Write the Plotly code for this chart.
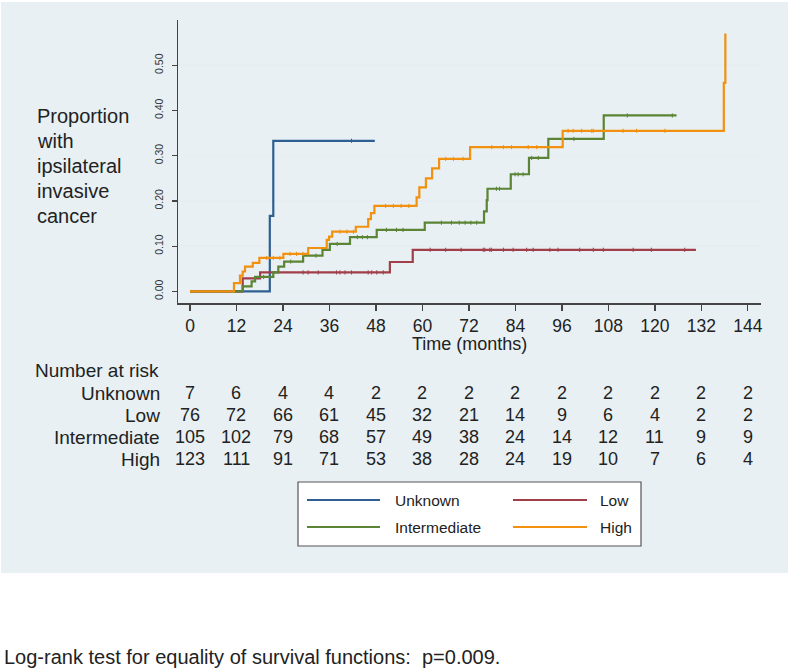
import plotly.graph_objects as go

# ---------------- data ----------------
groups = ["Unknown", "Low", "Intermediate", "High"]
colors = ["#2f5f92", "#a03f4a", "#5b8434", "#f2900f"]

unknown_t = [20.6, 21.5]
unknown_v = [0.167, 0.333]
unknown_end = 47.7
unknown_cens = [41.7]

low_t = [13.6, 18.1, 51.6, 57.5]
low_v = [0.029, 0.042, 0.065, 0.092]
low_end = 130.6
low_cens = [29.2, 30.5, 33.1, 37.8, 38.7, 40.0, 41.7, 46.0, 46.9, 48.2, 49.9,
            62.0, 66.0, 70.0, 75.7, 76.1, 77.4, 77.8, 80.9, 83.4, 86.9, 88.6,
            92.9, 95.0, 100.6, 104.1, 106.7, 114.4, 119.1, 127.7]

inter_t = [13.6, 15.9, 16.8, 21.5, 22.8, 24.3, 29.2, 34.2, 36.1, 41.3, 48.2,
           60.6, 75.9, 76.6, 76.8, 82.8, 87.5, 92.5, 106.8]
inter_v = [0.011, 0.022, 0.032, 0.042, 0.055, 0.066, 0.079, 0.092, 0.105, 0.120,
           0.136, 0.152, 0.177, 0.202, 0.227, 0.259, 0.295, 0.337, 0.389]
inter_end = 125.6
inter_cens = [19.0, 26.0, 32.5, 38.0, 43.2, 44.5, 45.8, 50.7, 53.3, 55.0, 64.9,
              67.5, 69.5, 71.0, 72.5, 74.0, 79.1, 79.9, 83.9, 84.7, 86.0, 88.2,
              89.9, 99.1, 112.9, 124.5]

high_t = [11.35, 12.9, 13.6, 14.2, 16.2, 17.9, 24.1, 30.5, 35.3, 35.9, 36.7,
          42.8, 46.0, 46.7, 47.6, 58.5, 59.2, 60.9, 62.5, 64.3, 72.3, 96.2,
          137.8, 138.2]
high_v = [0.0185, 0.035, 0.044, 0.055, 0.063, 0.074, 0.083, 0.096, 0.114, 0.121,
          0.132, 0.143, 0.160, 0.173, 0.189, 0.208, 0.230, 0.250, 0.272, 0.293,
          0.319, 0.355, 0.461, 0.570]
high_end = 138.2
high_cens = [19.8, 21.5, 23.2, 25.8, 27.5, 29.2, 38.7, 40.5, 42.2, 50.5, 52.5,
             54.5, 56.5, 66.0, 68.0, 70.5, 77.9, 80.9, 83.0, 87.3, 89.5, 97.6,
             98.9, 101.1, 103.7, 104.1, 111.8, 115.3, 122.6]

risk_times = [0, 12, 24, 36, 48, 60, 72, 84, 96, 108, 120, 132, 144]
risk_unknown = [7, 6, 4, 4, 2, 2, 2, 2, 2, 2, 2, 2, 2]
risk_low = [76, 72, 66, 61, 45, 32, 21, 14, 9, 6, 4, 2, 2]
risk_inter = [105, 102, 79, 68, 57, 49, 38, 24, 14, 12, 11, 9, 9]
risk_high = [123, 111, 91, 71, 53, 38, 28, 24, 19, 10, 7, 6, 4]

y_ticks = [0.0, 0.1, 0.2, 0.3, 0.4, 0.5]
y_ticklabels = ["0.00", "0.10", "0.20", "0.30", "0.40", "0.50"]

y_title_lines = ["Proportion", "with", "ipsilateral", "invasive", "cancer"]
x_title = "Time (months)"
footnote = "Log-rank test for equality of survival functions:  p=0.009."

# ---------------- layout geometry ----------------
W, H = 790, 670
ML, MR, MT, MB = 178, 29, 20, 367
PW, PH = W - ML - MR, H - MT - MB
FONT = "Liberation Sans, Arial, Helvetica, sans-serif"


def px2x(px):
    return (px - ML) / PW


def py2y(py):
    return (H - MB - py) / PH


def step_value(t, times, vals):
    v = 0.0
    for ti, vi in zip(times, vals):
        if ti <= t:
            v = vi
    return v


series = [
    (unknown_t, unknown_v, unknown_end, unknown_cens),
    (low_t, low_v, low_end, low_cens),
    (inter_t, inter_v, inter_end, inter_cens),
    (high_t, high_v, high_end, high_cens),
]

fig = go.Figure()
for name, col, (t, v, end, cens) in zip(groups, colors, series):
    xs = [0] + t + ([end] if end > t[-1] else [])
    ys = [0] + v + ([v[-1]] if end > t[-1] else [])
    fig.add_trace(go.Scatter(x=xs, y=ys, mode="lines", line=dict(color=col, width=2.2, shape="hv"),
                             name=name, showlegend=False, hoverinfo="skip"))
for name, col, (t, v, end, cens) in zip(groups, colors, series):
    cy = [step_value(c, t, v) for c in cens]
    fig.add_trace(go.Scatter(x=cens, y=cy, mode="markers",
                             marker=dict(symbol="line-ns", size=3, line=dict(color=col, width=1)),
                             showlegend=False, hoverinfo="skip"))

shapes = []
# light background panel
shapes.append(dict(type="rect", xref="paper", yref="paper", layer="below",
                   x0=px2x(1), x1=px2x(788), y0=py2y(573), y1=py2y(2),
                   fillcolor="#e8f0f3", line=dict(width=0)))

annotations = []
# y title
for i, line in enumerate(y_title_lines):
    annotations.append(dict(text=line, xref="paper", yref="paper", x=px2x(35), y=py2y(116 + 25 * i),
                            xanchor="left", yanchor="middle", showarrow=False,
                            font=dict(family=FONT, size=20, color="#222222")))
# x title
annotations.append(dict(text=x_title, xref="paper", yref="paper", x=0.5, y=py2y(344),
                        xanchor="center", yanchor="middle", showarrow=False,
                        font=dict(family=FONT, size=18, color="#222222")))
# number at risk
annotations.append(dict(text="Number at risk", xref="paper", yref="paper", x=px2x(33), y=py2y(370),
                        xanchor="left", yanchor="middle", showarrow=False,
                        font=dict(family=FONT, size=19, color="#222222")))
risk_rows = [risk_unknown, risk_low, risk_inter, risk_high]
row_y = [393, 415, 437, 459]
for name, row, ry in zip(groups, risk_rows, row_y):
    annotations.append(dict(text=name, xref="paper", yref="paper", x=px2x(162), y=py2y(ry),
                            xanchor="right", yanchor="middle", showarrow=False,
                            font=dict(family=FONT, size=19, color="#222222")))
    for t, n in zip(risk_times, row):
        annotations.append(dict(text=str(n), xref="x", yref="paper", x=t, y=py2y(ry),
                                xanchor="center", yanchor="middle", showarrow=False,
                                font=dict(family=FONT, size=18, color="#222222")))

# legend box (drawn)
shapes.append(dict(type="rect", xref="paper", yref="paper",
                   x0=px2x(298), x1=px2x(641), y0=py2y(546), y1=py2y(482),
                   fillcolor="white", line=dict(color="#555555", width=1.2)))
leg_pos = [(307, 380, 393, 500), (513, 587, 598, 500), (307, 380, 393, 527), (513, 587, 598, 527)]
for name, col, (lx0, lx1, tx, ly) in zip(groups, colors, leg_pos):
    shapes.append(dict(type="line", xref="paper", yref="paper",
                       x0=px2x(lx0), x1=px2x(lx1), y0=py2y(ly), y1=py2y(ly),
                       line=dict(color=col, width=1.8)))
    annotations.append(dict(text=name, xref="paper", yref="paper", x=px2x(tx), y=py2y(ly),
                            xanchor="left", yanchor="middle", showarrow=False,
                            font=dict(family=FONT, size=15.5, color="#222222")))

# footnote
annotations.append(dict(text=footnote, xref="paper", yref="paper", x=px2x(2), y=py2y(657),
                        xanchor="left", yanchor="middle", showarrow=False,
                        font=dict(family=FONT, size=20, color="#222222")))

fig.update_layout(
    width=W, height=H,
    margin=dict(l=ML, r=MR, t=MT, b=MB, pad=0),
    paper_bgcolor="white", plot_bgcolor="white",
    shapes=shapes, annotations=annotations,
    showlegend=False,
    font=dict(family=FONT, color="#222222"),
)
fig.update_xaxes(range=[-3.1, 147.4], tickvals=risk_times, ticks="outside", ticklen=6,
                 tickwidth=1.3, tickcolor="#444444", showline=True, linecolor="#444444",
                 linewidth=1.5, showgrid=False, zeroline=False,
                 tickfont=dict(family=FONT, size=17.5, color="#222222"))
fig.update_yaxes(range=[-0.0256, 0.600], tickvals=y_ticks, ticktext=y_ticklabels,
                 ticks="outside", ticklen=5, tickwidth=1.3, tickcolor="#444444",
                 showline=True, linecolor="#444444", linewidth=1.5,
                 showgrid=True, gridcolor="#e6eef4", gridwidth=1.5, zeroline=False,
                 tickangle=-90, ticklabelstandoff=4,
                 tickfont=dict(family=FONT, size=10.5, color="#333333"))

fig.write_html("out.html", config={"displayModeBar": False, "staticPlot": True},
               post_script="document.body.style.margin='0px';document.body.style.overflow='hidden';")
